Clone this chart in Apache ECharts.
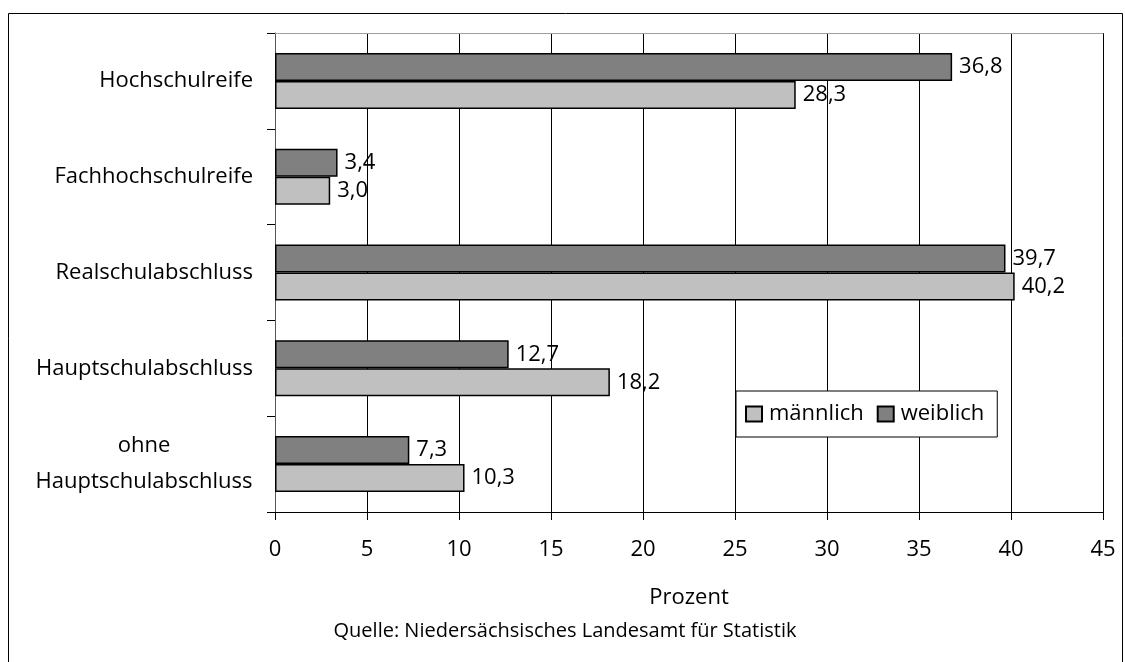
<!DOCTYPE html>
<html>
<head>
<meta charset="utf-8">
<script src="https://cdn.jsdelivr.net/npm/echarts@6/dist/echarts.min.js"></script>
<style>
  html, body { margin: 0; padding: 0; background: #fff; }
  #chart { width: 1125px; height: 662px; }
</style>
</head>
<body>
<div id="chart"></div>
<script>
// Schulabschlüsse nach Geschlecht (Prozent)
const categories = [
  'Hochschulreife',
  'Fachhochschulreife',
  'Realschulabschluss',
  'Hauptschulabschluss',
  'ohne\nHauptschulabschluss'
];
const weiblich = [36.8, 3.4, 39.7, 12.7, 7.3];
const maennlich = [28.3, 3.0, 40.2, 18.2, 10.3];
const xTicks = { min: 0, max: 45, interval: 5 };
const axisName = 'Prozent';
const sourceText = 'Quelle: Niedersächsisches Landesamt für Statistik';

const FAMILY = '"Open Sans", "DejaVu Sans", sans-serif';
const FS = 22;
const fmt = v => v.toFixed(1).replace('.', ',');

// width of a text line, used to centre the lines of two-line category names
const measureCtx = document.createElement('canvas').getContext('2d');
measureCtx.font = FS + 'px ' + FAMILY;
const textWidth = s => Math.ceil(measureCtx.measureText(s).width);

const categoryFormatter = value => {
  const lines = value.split('\n');
  if (lines.length === 1) return value;
  const w = Math.max(...lines.map(textWidth));
  return lines.map(l => '{c' + w + '|' + l + '}').join('\n');
};
const richStyles = {};
categories.forEach(c => {
  const lines = c.split('\n');
  if (lines.length > 1) {
    const w = Math.max(...lines.map(textWidth));
    richStyles['c' + w] = { width: w, align: 'center', fontSize: FS, fontFamily: FAMILY, color: '#000', lineHeight: 36 };
  }
});

const chart = echarts.init(document.getElementById('chart'), null, { renderer: 'canvas' });

const labelCfg = {
  show: true,
  position: 'right',
  distance: 7,
  color: '#000',
  fontSize: FS,
  fontFamily: FAMILY,
  formatter: p => fmt(p.value)
};

chart.setOption({
  animation: false,
  backgroundColor: '#fff',
  textStyle: { fontFamily: FAMILY },
  graphic: [
    {
      type: 'rect',
      shape: { x: 8.5, y: 13.5, width: 1114, height: 660 },
      style: { fill: 'none', stroke: '#000', lineWidth: 1 },
      silent: true
    },
    {
      type: 'text',
      style: {
        text: sourceText,
        x: 565, y: 631,
        textAlign: 'center',
        textVerticalAlign: 'middle',
        fill: '#000',
        fontSize: 20,
        fontFamily: FAMILY
      },
      silent: true
    }
  ],
  grid: { left: 275, right: 22, top: 33, bottom: 150, containLabel: false },
  legend: {
    data: ['männlich', 'weiblich'],
    left: 736,
    top: 391,
    orient: 'horizontal',
    padding: [12, 13, 12, 9],
    itemGap: 13,
    itemWidth: 16,
    itemHeight: 15,
    backgroundColor: '#fff',
    borderColor: '#000',
    borderWidth: 1,
    borderRadius: 0,
    textStyle: { fontSize: FS, color: '#000', fontFamily: FAMILY, padding: [0, 0, 0, 2] },
    icon: 'rect'
  },
  xAxis: [
    {
      type: 'value',
      min: xTicks.min,
      max: xTicks.max,
      interval: xTicks.interval,
      name: axisName,
      nameLocation: 'middle',
      nameGap: 75,
      nameTextStyle: { fontSize: FS, color: '#000', fontFamily: FAMILY },
      axisLine: { show: true, lineStyle: { color: '#000', width: 1 } },
      axisTick: { show: true, length: 8, lineStyle: { color: '#000' } },
      axisLabel: { fontSize: FS, color: '#000', margin: 27, fontFamily: FAMILY },
      splitLine: { show: true, lineStyle: { color: '#000', width: 1 } }
    },
    {
      // thin frame line along the top of the plot area
      type: 'value',
      position: 'top',
      min: xTicks.min,
      max: xTicks.max,
      interval: xTicks.interval,
      axisLine: { show: true, lineStyle: { color: '#a0a0a0', width: 1 } },
      axisTick: { show: false },
      axisLabel: { show: false },
      splitLine: { show: false }
    }
  ],
  yAxis: {
    type: 'category',
    data: categories,
    inverse: true,
    axisLine: { show: true, lineStyle: { color: '#555', width: 1 } },
    axisTick: { show: true, length: 8, inside: false, lineStyle: { color: '#000' } },
    axisLabel: {
      fontSize: FS, color: '#000', margin: 22, lineHeight: 36, align: 'right', fontFamily: FAMILY,
      formatter: categoryFormatter,
      rich: richStyles
    }
  },
  series: [
    {
      name: 'weiblich',
      type: 'bar',
      data: weiblich,
      barWidth: 28,
      barGap: '0%',
      itemStyle: { color: '#808080', borderColor: '#000', borderWidth: 1.5 },
      label: labelCfg
    },
    {
      name: 'männlich',
      type: 'bar',
      data: maennlich,
      barWidth: 28,
      barGap: '0%',
      itemStyle: { color: '#c0c0c0', borderColor: '#000', borderWidth: 1.5 },
      label: labelCfg
    }
  ]
});
</script>
</body>
</html>
